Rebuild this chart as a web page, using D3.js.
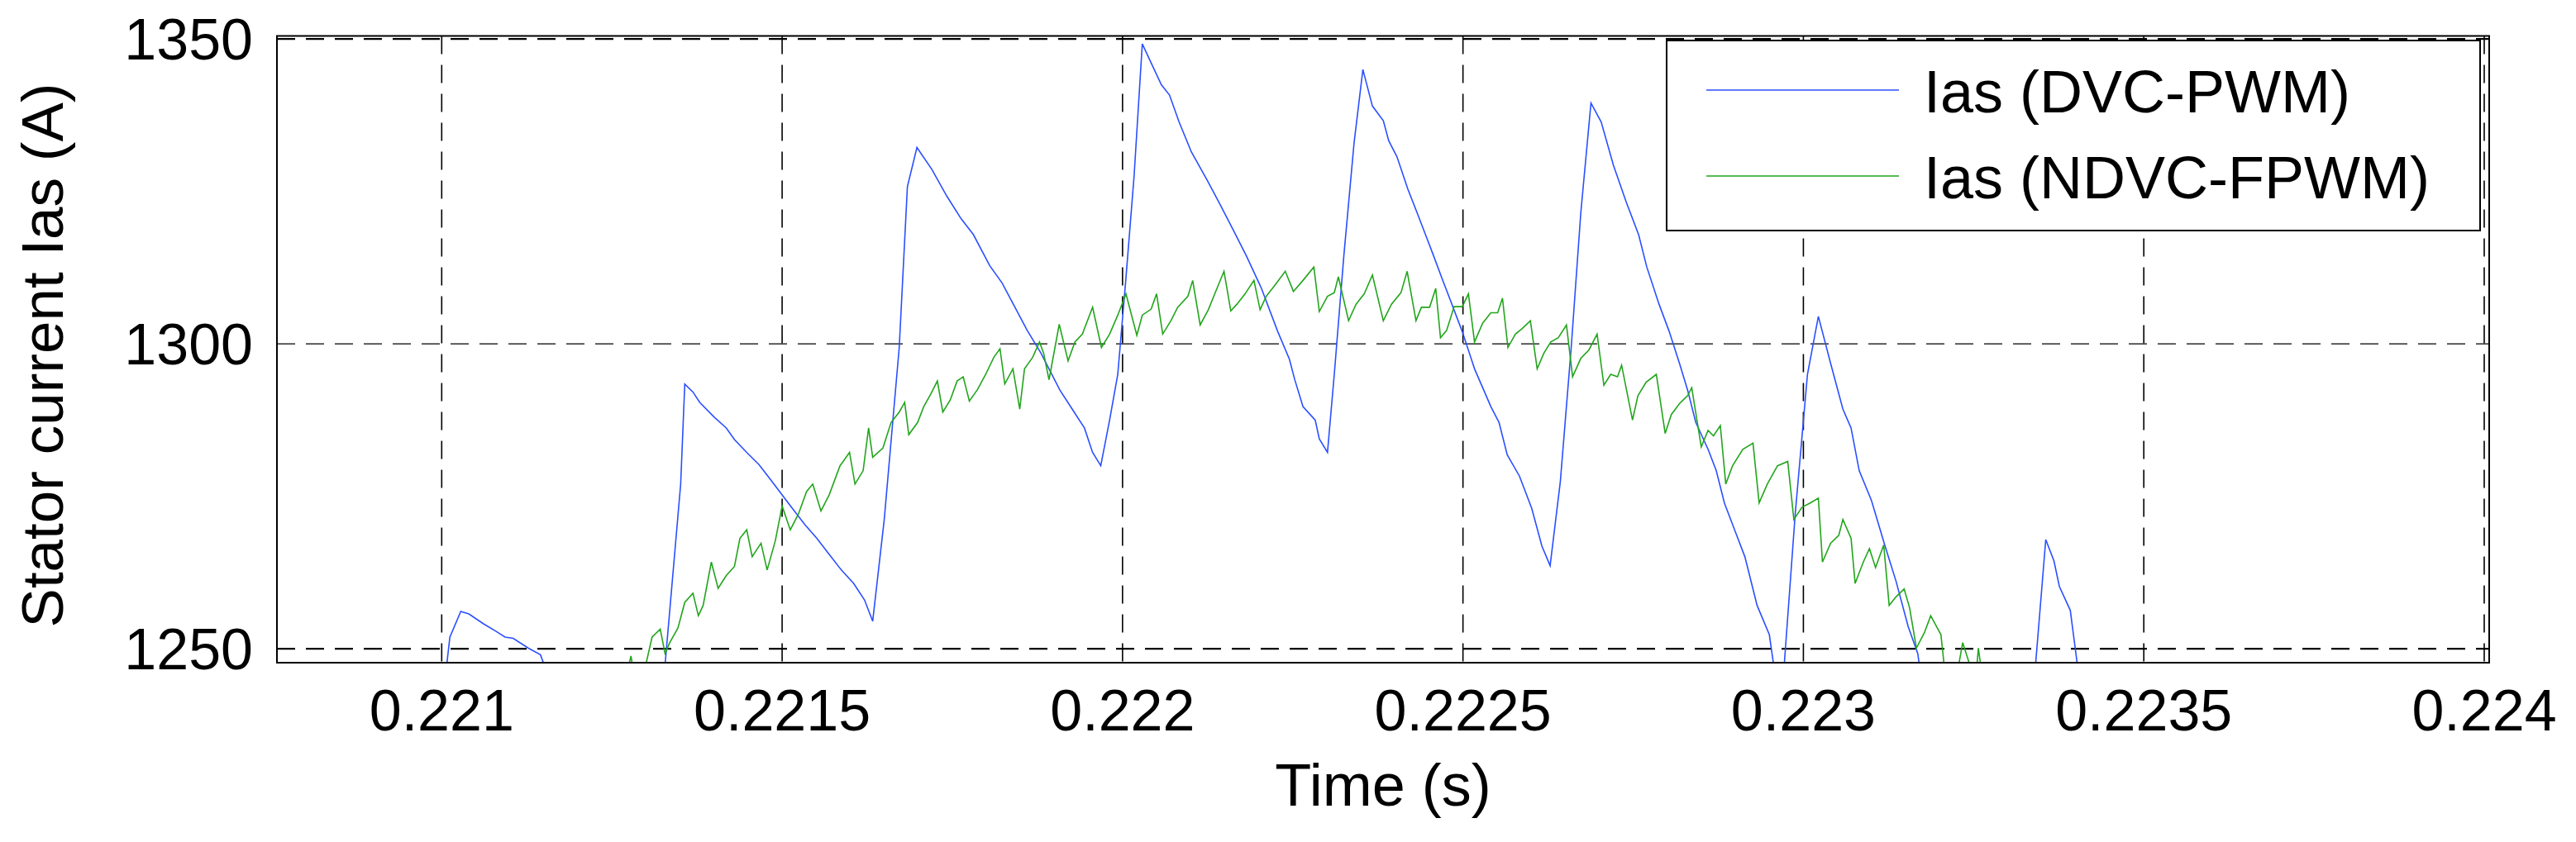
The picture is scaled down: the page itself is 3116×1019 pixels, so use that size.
<!DOCTYPE html>
<html>
<head>
<meta charset="utf-8">
<script src="https://cdn.jsdelivr.net/npm/d3@7"></script>
<style>
body { margin: 0; background: #fff; }
text { font-family: "Liberation Sans", Arial, sans-serif; fill: #000; }
</style>
</head>
<body>
<div id="chart"></div>
<script>
// tick values
var xTicks = [0.221, 0.2215, 0.222, 0.2225, 0.223, 0.2235, 0.224];
var yTicks = [1250, 1300, 1350];

// Ias (DVC-PWM), time in s, current in A (1246 = below the visible range)
var dvcT = [0.221000, 0.221006, 0.221012, 0.221028, 0.221040, 0.221061, 0.221079, 0.221093, 0.221105, 0.221127, 0.221145, 0.221155,
  0.221327, 0.221351, 0.221357, 0.221369, 0.221379, 0.221400, 0.221418, 0.221430, 0.221448, 0.221466, 0.221484, 0.221509, 0.221533, 0.221551, 0.221569, 0.221587, 0.221605, 0.221621, 0.221633,
  0.221650, 0.221672, 0.221684, 0.221698, 0.221720, 0.221742, 0.221763, 0.221781, 0.221805, 0.221823, 0.221842, 0.221860, 0.221880, 0.221908, 0.221926, 0.221944, 0.221956, 0.221968,
  0.221981, 0.221993, 0.222005, 0.222017, 0.222029, 0.222044, 0.222057, 0.222069, 0.222083, 0.222101, 0.222125, 0.222144, 0.222162, 0.222182, 0.222204, 0.222228, 0.222245,
  0.222253, 0.222265, 0.222283, 0.222289, 0.222301, 0.222311, 0.222325, 0.222340, 0.222353, 0.222367, 0.222383, 0.222391, 0.222403, 0.222419, 0.222433, 0.222445, 0.222457, 0.222469, 0.222481, 0.222499, 0.222517, 0.222541, 0.222553, 0.222565, 0.222583, 0.222601, 0.222616, 0.222628,
  0.222643, 0.222659, 0.222673, 0.222688, 0.222703, 0.222721, 0.222740, 0.222758, 0.222770, 0.222788, 0.222803, 0.222818, 0.222830, 0.222842, 0.222860, 0.222872, 0.222884, 0.222902, 0.222914, 0.222932, 0.222950, 0.222958,
  0.222971, 0.222988, 0.223006, 0.223022, 0.223040, 0.223058, 0.223070, 0.223082, 0.223100, 0.223120, 0.223136, 0.223154, 0.223168, 0.223172,
  0.223340, 0.223356, 0.223368, 0.223376, 0.223392, 0.223404];
var dvcI = [1246, 1246, 1251.9, 1256.1, 1255.7, 1254.1, 1252.9, 1251.9, 1251.7, 1250.1, 1249.0, 1246,
  1246, 1277.0, 1293.4, 1292.1, 1290.4, 1288.0, 1286.2, 1284.3, 1282.2, 1280.2, 1277.6, 1273.9, 1270.4, 1268.1, 1265.5, 1262.9, 1260.7, 1258.0, 1254.5,
  1271.2, 1299.4, 1325.8, 1332.2, 1328.6, 1324.2, 1320.5, 1317.9, 1312.8, 1310.0, 1306.0, 1302.2, 1298.5, 1292.4, 1289.3, 1286.2, 1282.2, 1280.0,
  1287.5, 1295.0, 1310.8, 1327.6, 1349.2, 1345.6, 1342.5, 1340.8, 1336.4, 1331.5, 1326.7, 1322.7, 1318.8, 1314.4, 1309.1, 1302.0, 1297.5,
  1294.1, 1289.7, 1287.5, 1284.4, 1282.2, 1295.0, 1314.4, 1332.9, 1345.0, 1339.0, 1336.6, 1333.3, 1330.7, 1325.4, 1321.4, 1317.9, 1314.4, 1310.8, 1307.3, 1302.0, 1295.9, 1289.7, 1287.1, 1281.8, 1278.3, 1273.0, 1266.8, 1263.6,
  1277.4, 1299.4, 1321.4, 1339.5, 1336.4, 1329.3, 1323.2, 1317.9, 1312.6, 1306.5, 1302.0, 1296.8, 1292.4, 1287.1, 1282.7, 1279.2, 1273.9, 1268.6, 1265.1, 1257.1, 1252.3, 1246,
  1246, 1272.1, 1295.0, 1304.5, 1296.8, 1289.3, 1286.2, 1279.2, 1274.3, 1266.8, 1261.1, 1253.6, 1249.2, 1246,
  1246, 1267.9, 1264.4, 1260.2, 1256.3, 1246];

// Ias (NDVC-FPWM)
var ndvcT = [0.221272, 0.221278, 0.221282, 0.221297, 0.221309, 0.221321, 0.221328, 0.221335, 0.221347, 0.221357, 0.221369, 0.221377, 0.221384, 0.221396, 0.221406, 0.221418,
  0.221430, 0.221438, 0.221448, 0.221456, 0.221469, 0.221478, 0.221490, 0.221500, 0.221512, 0.221524, 0.221536, 0.221545, 0.221557, 0.221569, 0.221585, 0.221599,
  0.221607, 0.221619, 0.221627, 0.221633, 0.221648, 0.221660, 0.221672, 0.221680, 0.221686, 0.221699, 0.221708, 0.221718, 0.221728, 0.221736, 0.221747, 0.221757,
  0.221766, 0.221775, 0.221787, 0.221799, 0.221811, 0.221820, 0.221827, 0.221839, 0.221849, 0.221856, 0.221868, 0.221878, 0.221884, 0.221892, 0.221907, 0.221920,
  0.221930, 0.221941, 0.221956, 0.221969, 0.221981, 0.221993, 0.222005, 0.222021, 0.222029, 0.222042, 0.222050, 0.222059, 0.222071, 0.222081, 0.222096, 0.222103,
  0.222114, 0.222126, 0.222134, 0.222149, 0.222159, 0.222168, 0.222180, 0.222193, 0.222202, 0.222211, 0.222223, 0.222239,
  0.222251, 0.222265, 0.222281, 0.222289, 0.222301, 0.222311, 0.222317, 0.222332, 0.222343, 0.222355, 0.222367, 0.222383, 0.222395, 0.222409, 0.222418,
  0.222431, 0.222439, 0.222451, 0.222460, 0.222467, 0.222476, 0.222487, 0.222499, 0.222508, 0.222517, 0.222529, 0.222541, 0.222551, 0.222558, 0.222566,
  0.222577, 0.222587, 0.222599, 0.222609, 0.222619, 0.222629, 0.222640, 0.222652, 0.222661, 0.222673, 0.222685, 0.222697, 0.222707, 0.222717, 0.222727,
  0.222733, 0.222749, 0.222757, 0.222769, 0.222784, 0.222797, 0.222806, 0.222818, 0.222830, 0.222836, 0.222850, 0.222860, 0.222868, 0.222878, 0.222886,
  0.222896, 0.222911, 0.222926, 0.222935, 0.222947, 0.222962, 0.222977, 0.222986, 0.222998, 0.223010, 0.223022, 0.223028, 0.223040, 0.223052, 0.223058,
  0.223070, 0.223076, 0.223088, 0.223097, 0.223106, 0.223118, 0.223126, 0.223136, 0.223148, 0.223156, 0.223166, 0.223178, 0.223187, 0.223202, 0.223208,
  0.223226, 0.223234, 0.223244, 0.223250, 0.223254, 0.223257, 0.223262];
var ndvcI = [1246, 1248.8, 1246, 1246, 1251.9, 1253.2, 1249.2, 1251.0, 1253.4, 1257.6, 1259.1, 1255.4, 1257.1, 1264.2, 1259.9, 1262.0,
  1263.5, 1268.1, 1269.5, 1265.1, 1267.3, 1262.9, 1267.7, 1273.4, 1269.5, 1272.1, 1275.8, 1277.0, 1272.6, 1275.2, 1280.0, 1282.2,
  1277.0, 1279.2, 1286.2, 1281.4, 1282.9, 1287.1, 1288.8, 1290.4, 1285.1, 1287.1, 1289.7, 1291.7, 1293.9, 1288.8, 1290.8, 1293.9,
  1294.6, 1290.6, 1292.5, 1295.0, 1297.8, 1299.2, 1293.4, 1295.9, 1289.3, 1295.9, 1297.8, 1300.3, 1298.5, 1294.1, 1303.2, 1297.2,
  1300.3, 1301.6, 1306.0, 1299.4, 1301.6, 1304.7, 1308.2, 1301.4, 1304.7, 1305.7, 1308.2, 1301.6, 1303.8, 1306.0, 1307.8, 1310.4,
  1303.1, 1305.6, 1307.8, 1311.9, 1305.4, 1306.5, 1308.2, 1310.4, 1305.6, 1307.8, 1309.5, 1311.9,
  1308.6, 1310.4, 1312.6, 1305.3, 1307.8, 1308.4, 1311.0, 1303.8, 1306.5, 1308.2, 1311.3, 1303.8, 1306.5, 1308.4, 1311.9,
  1303.8, 1306.0, 1306.0, 1309.1, 1301.0, 1302.2, 1306.1, 1306.1, 1308.2, 1300.3, 1303.4, 1305.1, 1305.1, 1307.5, 1299.4,
  1301.6, 1302.5, 1303.8, 1295.9, 1298.5, 1300.3, 1301.0, 1303.1, 1294.6, 1297.6, 1299.0, 1301.6, 1293.2, 1295.0, 1294.6,
  1296.5, 1287.5, 1291.5, 1293.7, 1295.0, 1285.3, 1288.4, 1290.2, 1291.5, 1292.8, 1283.1, 1285.8, 1284.9, 1286.6, 1277.0,
  1280.0, 1282.7, 1283.7, 1273.9, 1277.0, 1280.0, 1280.7, 1271.2, 1273.2, 1273.9, 1274.7, 1264.2, 1267.3, 1268.6, 1271.2,
  1268.1, 1260.7, 1264.2, 1266.4, 1263.3, 1267.0, 1257.1, 1258.5, 1259.8, 1256.7, 1250.1, 1252.7, 1255.4, 1252.3, 1246,
  1246, 1251.0, 1247.5, 1246, 1246, 1250.1, 1246];

var seriesNames = ["Ias (DVC-PWM)", "Ias (NDVC-FPWM)"];
var seriesColors = ["#2a4fff", "#22a51c"];

var W = 3116, H = 1019;
var x = d3.scaleLinear().domain([0.220758, 0.2240073]).range([335, 3011]);
var y = d3.scaleLinear().domain([1247.7, 1350.5]).range([802, 43.5]);

var svg = d3.select("#chart").append("svg").attr("width", W).attr("height", H);

// grid
svg.selectAll(".gx").data(xTicks).enter().append("line")
  .attr("x1", d => x(d)).attr("x2", d => x(d))
  .attr("y1", y.range()[1]).attr("y2", y.range()[0])
  .attr("stroke", "#000").attr("stroke-width", 1.6).attr("stroke-dasharray", "22,13");
svg.selectAll(".gy").data(yTicks).enter().append("line")
  .attr("x1", x.range()[0]).attr("x2", x.range()[1])
  .attr("y1", d => y(d)).attr("y2", d => y(d))
  .attr("stroke", "#000").attr("stroke-width", d => d === 1300 ? 1.3 : 2.2).attr("stroke-dasharray", "22,13");

// data lines
svg.append("clipPath").attr("id", "clip").append("rect")
  .attr("x", x.range()[0]).attr("y", y.range()[1])
  .attr("width", x.range()[1] - x.range()[0]).attr("height", y.range()[0] - y.range()[1]);

var line = d3.line().x(d => x(d[0])).y(d => y(d[1]));
var series = [d3.zip(dvcT, dvcI), d3.zip(ndvcT, ndvcI)];
svg.append("g").attr("clip-path", "url(#clip)").selectAll("path").data(series).enter().append("path")
  .attr("d", line).attr("fill", "none")
  .attr("stroke", (d, i) => seriesColors[i]).attr("stroke-width", 1.6);

// box
svg.append("rect")
  .attr("x", x.range()[0]).attr("y", y.range()[1])
  .attr("width", x.range()[1] - x.range()[0]).attr("height", y.range()[0] - y.range()[1])
  .attr("fill", "none").attr("stroke", "#000").attr("stroke-width", 2);

// tick labels
svg.selectAll(".xt").data(xTicks).enter().append("text")
  .attr("x", d => x(d)).attr("y", 884).attr("text-anchor", "middle")
  .attr("font-size", 70).text(d => d);
svg.selectAll(".yt").data(yTicks).enter().append("text")
  .attr("x", 306).attr("y", d => y(d) + 25).attr("text-anchor", "end")
  .attr("font-size", 70).text(d => d);

// axis titles
svg.append("text").attr("x", 1673).attr("y", 975).attr("text-anchor", "middle")
  .attr("font-size", 72).text("Time (s)");
svg.append("text").attr("transform", "translate(76,430) rotate(-90)").attr("text-anchor", "middle")
  .attr("font-size", 71).text("Stator current Ias (A)");

// legend
var lg = svg.append("g");
lg.append("rect").attr("x", 2016).attr("y", 49).attr("width", 984).attr("height", 230)
  .attr("fill", "#fff").attr("stroke", "#000").attr("stroke-width", 2);
seriesNames.forEach(function (name, i) {
  var ly = 109 + i * 104;
  lg.append("line").attr("x1", 2064).attr("x2", 2297).attr("y1", ly).attr("y2", ly)
    .attr("stroke", seriesColors[i]).attr("stroke-width", 1.6);
  lg.append("text").attr("x", 2327).attr("y", ly + 27).attr("font-size", 72).text(name);
});
</script>
</body>
</html>
